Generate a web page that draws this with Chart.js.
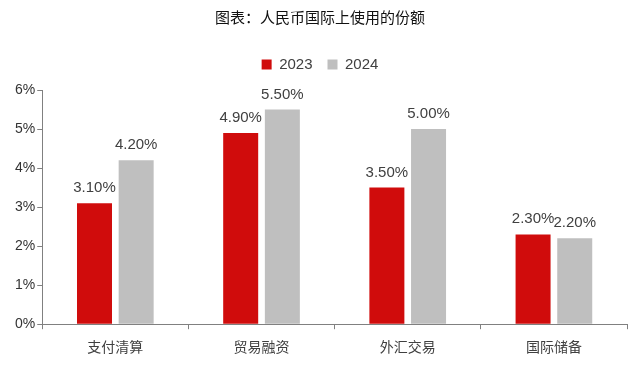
<!DOCTYPE html>
<html>
<head>
<meta charset="utf-8">
<script src="https://cdn.jsdelivr.net/npm/chart.js@4/dist/chart.umd.min.js"></script>
<style>
  html, body { margin: 0; padding: 0; background: #fff; }
  #wrap { width: 640px; height: 365px; }
</style>
</head>
<body>
<div id="wrap"><canvas id="myChart" width="640" height="365"></canvas></div>
<script>
var categories = ['支付清算', '贸易融资', '外汇交易', '国际储备'];
var share2023 = [3.1, 4.9, 3.5, 2.3];
var share2024 = [4.2, 5.5, 5.0, 2.2];
var yTicks = [0, 1, 2, 3, 4, 5, 6];

// draws the value above each bar
var barLabels = {
    id: 'barLabels',
    afterDatasetsDraw: function(chart) {
        var ctx = chart.ctx;
        ctx.save();
        ctx.font = '15px "Liberation Sans", Arial, sans-serif';
        ctx.fillStyle = '#404040';
        ctx.textAlign = 'center';
        ctx.textBaseline = 'alphabetic';
        chart.data.datasets.forEach(function(ds, i) {
            chart.getDatasetMeta(i).data.forEach(function(bar, j) {
                ctx.fillText(ds.data[j].toFixed(2) + '%', bar.x, bar.y - 11);
            });
        });
        ctx.restore();
    }
};

// a bit more room under the legend
var legendGap = {
    id: 'legendGap',
    afterInit: function(chart) {
        var fit = chart.legend.fit;
        chart.legend.fit = function() {
            fit.call(this);
            this.height += 8;
        };
    }
};

var ctx = document.getElementById('myChart').getContext('2d');
var myChart = new Chart(ctx, {
    type: 'bar',
    data: {
        labels: categories,
        datasets: [
            { label: '2023', data: share2023, backgroundColor: '#d00c0c', categoryPercentage: 0.57, barPercentage: 0.84 },
            { label: '2024', data: share2024, backgroundColor: '#bfbfbf', categoryPercentage: 0.57, barPercentage: 0.84 }
        ]
    },
    options: {
        responsive: false,
        animation: false,
        layout: { padding: { left: 13, right: 13, top: 0, bottom: 1 } },
        plugins: {
            title: {
                display: true,
                text: '图表：人民币国际上使用的份额',
                color: '#111',
                font: { family: '"Noto Sans CJK SC", sans-serif', size: 15, weight: 'normal' },
                padding: { top: 8, bottom: 16 }
            },
            legend: {
                display: true,
                labels: {
                    color: '#404040',
                    boxWidth: 10,
                    boxHeight: 10,
                    padding: 15,
                    font: { family: '"Liberation Sans", Arial, sans-serif', size: 15 }
                }
            },
            tooltip: { enabled: false }
        },
        scales: {
            x: {
                offset: true,
                grid: { display: true, drawOnChartArea: false, offset: true, tickLength: 5, color: '#808080' },
                border: { color: '#808080' },
                ticks: {
                    color: '#404040',
                    padding: 9,
                    font: { family: '"Noto Sans CJK SC", sans-serif', size: 14 }
                }
            },
            y: {
                min: 0,
                max: 6,
                afterBuildTicks: function(axis) {
                    axis.ticks = yTicks.map(function(v) { return { value: v }; });
                },
                grid: { display: true, drawOnChartArea: false, tickLength: 5, color: '#808080' },
                border: { color: '#808080' },
                ticks: {
                    color: '#333',
                    padding: 2,
                    font: { family: '"Liberation Sans", Arial, sans-serif', size: 14 },
                    callback: function(v) { return v + '%'; }
                }
            }
        }
    },
    plugins: [barLabels, legendGap]
});
</script>
</body>
</html>
